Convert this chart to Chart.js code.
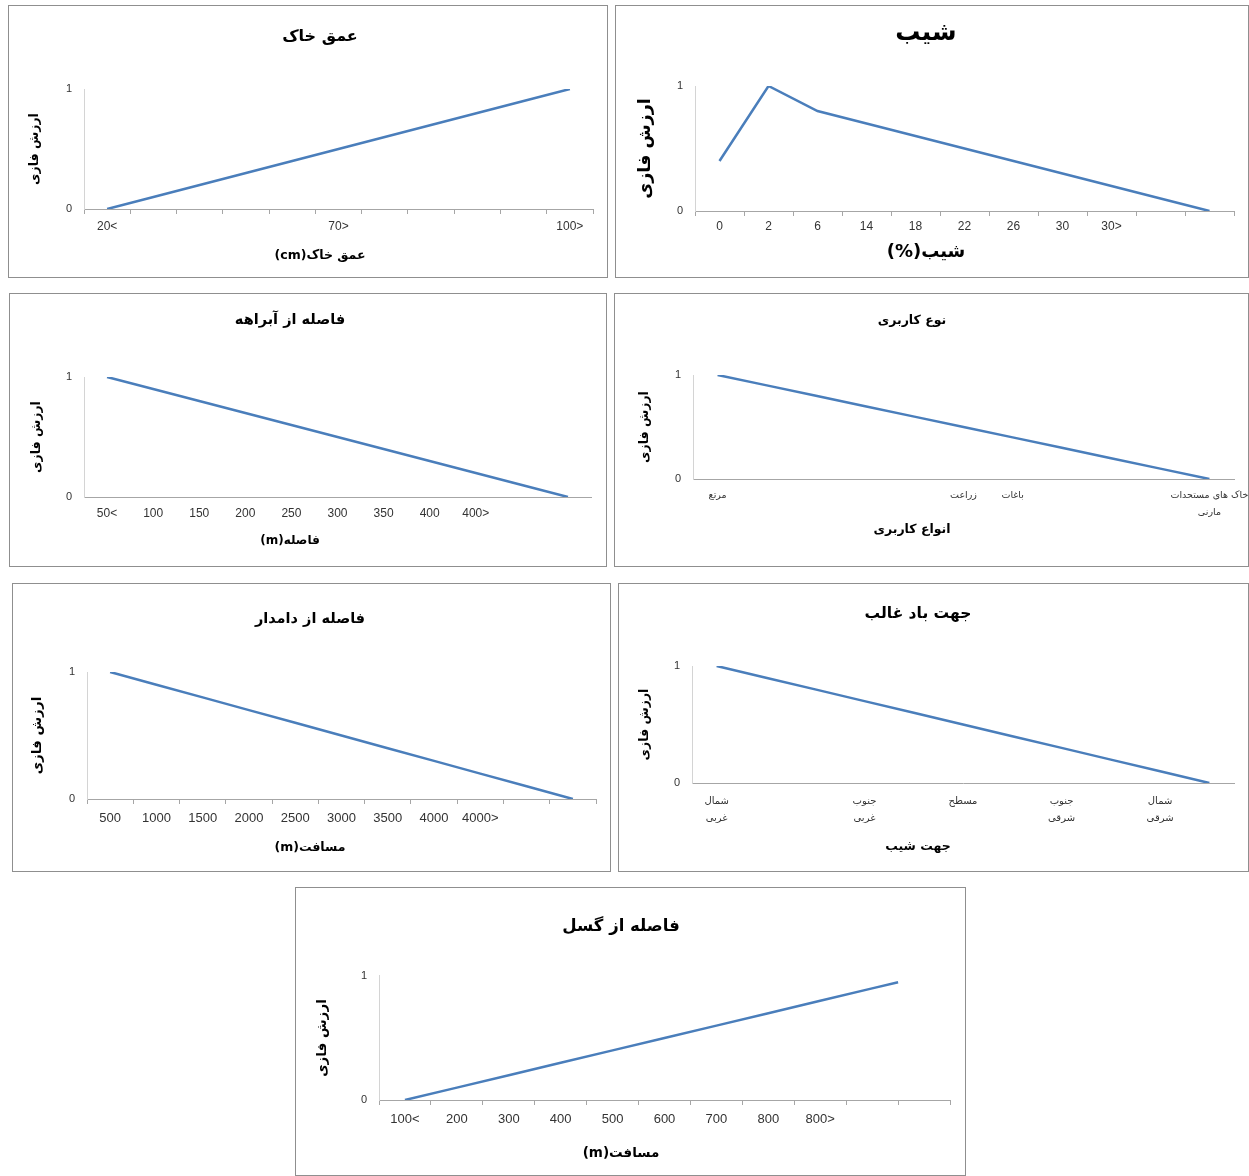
<!DOCTYPE html>
<html lang="fa">
<head>
<meta charset="utf-8">
<title>ارزش فازی</title>
<script src="https://cdn.jsdelivr.net/npm/chart.js@4.4.1/dist/chart.umd.min.js"></script>
<style>
  html, body { margin: 0; padding: 0; background: #fff; }
  #page { position: relative; width: 1249px; height: 1176px; overflow: hidden; }
  .panel { position: absolute; box-sizing: border-box; border: 1px solid #8f8f8f; background: #fff; }
  .panel canvas { display: block; }
</style>
</head>
<body>
<div id="page"></div>
<script>
// --- data ---
const yTitle = 'ارزش فازی';

const depthLabels = ['20<', '', '', '', '', '70>', '', '', '', '', '100>'];
const depthValues = [0, 0.1, 0.2, 0.3, 0.4, 0.5, 0.6, 0.7, 0.8, 0.9, 1];

const slopeLabels = ['0', '2', '6', '14', '18', '22', '26', '30', '30>', '', ''];
const slopeValues = [0.4, 1, 0.8, 0.7, 0.6, 0.5, 0.4, 0.3, 0.2, 0.1, 0];

const riverLabels = ['50<', '100', '150', '200', '250', '300', '350', '400', '400>', '', ''];
const riverValues = [1, 0.9, 0.8, 0.7, 0.6, 0.5, 0.4, 0.3, 0.2, 0.1, 0];

const landuseLabels = ['مرتع', '', '', '', '', 'زراعت', 'باغات', '', '', '', ['خاک های مستحدات', 'مارنی']];
const landuseValues = [1, 0.9, 0.8, 0.7, 0.6, 0.5, 0.4, 0.3, 0.2, 0.1, 0];

const livestockLabels = ['500', '1000', '1500', '2000', '2500', '3000', '3500', '4000', '4000>', '', ''];
const livestockValues = [1, 0.9, 0.8, 0.7, 0.6, 0.5, 0.4, 0.3, 0.2, 0.1, 0];

const windLabels = [['شمال', 'غربی'], '', '', ['جنوب', 'غربی'], '', 'مسطح', '', ['جنوب', 'شرقی'], '', ['شمال', 'شرقی'], ''];
const windValues = [1, 0.9, 0.8, 0.7, 0.6, 0.5, 0.4, 0.3, 0.2, 0.1, 0];

const faultLabels = ['100<', '200', '300', '400', '500', '600', '700', '800', '800>', '', ''];
const faultValues = [0, 0.1, 0.2, 0.3, 0.4, 0.5, 0.6, 0.7, 0.8, 0.9, 0.95];
const faultSlots = [1, 2, 3, 4, 5, 6, 7, 8, 9, 10, 10.5];

// --- look ---
const FA = '"DejaVu Sans", sans-serif';
const NUM = '"Liberation Sans", Arial, sans-serif';
const LINE = '#4a7ebb';
const rtl = s => '\u202B' + s + '\u202C';

// box: border pixels [x0, y0, x1, y1]; plot: [left, right, top, bottom]
const panels = [
  { box: [8, 5, 607, 277], plot: [84, 593, 89, 209], center: 320, titleY: 37, xTitleY: 256, yTitleX: 35, labelY: 227,
    title: 'عمق خاک', titleSize: 16, xTitle: rtl('عمق خاک(cm)'), xTitleSize: 12.5, yTitleSize: 12.5,
    labels: depthLabels, values: depthValues, tickFont: NUM, tickSize: 12, tickLh: 1.2, tickMarks: true },
  { box: [615, 5, 1248, 277], plot: [695, 1234, 86, 211], center: 926, titleY: 33, xTitleY: 252, yTitleX: 645, labelY: 227,
    title: 'شیب', titleSize: 25, xTitle: rtl('شیب(%)'), xTitleSize: 18, yTitleSize: 17.5,
    labels: slopeLabels, values: slopeValues, tickFont: NUM, tickSize: 12, tickLh: 1.2, tickMarks: true },
  { box: [9, 293, 606, 566], plot: [84, 591, 377, 497], center: 290, titleY: 320, xTitleY: 541, yTitleX: 37, labelY: 514,
    title: 'فاصله از آبراهه', titleSize: 14.5, xTitle: rtl('فاصله(m)'), xTitleSize: 12, yTitleSize: 12.5,
    labels: riverLabels, values: riverValues, tickFont: NUM, tickSize: 12, tickLh: 1.2, tickMarks: false },
  { box: [614, 293, 1248, 566], plot: [693, 1234, 375, 479], center: 912, titleY: 321, xTitleY: 530, yTitleX: 645, labelY: 496,
    title: 'نوع کاربری', titleSize: 12.5, xTitle: 'انواع کاربری', xTitleSize: 12.5, yTitleSize: 12.5,
    labels: landuseLabels, values: landuseValues, tickFont: FA, tickSize: 9.5, tickLh: 1.75, tickMarks: false },
  { box: [12, 583, 610, 871], plot: [87, 596, 672, 799], center: 310, titleY: 619, xTitleY: 848, yTitleX: 37, labelY: 818,
    title: 'فاصله از دامدار', titleSize: 14.5, xTitle: rtl('مسافت(m)'), xTitleSize: 12.5, yTitleSize: 13.5,
    labels: livestockLabels, values: livestockValues, tickFont: NUM, tickSize: 13, tickLh: 1.2, tickMarks: true },
  { box: [618, 583, 1248, 871], plot: [692, 1234, 666, 783], center: 918, titleY: 614, xTitleY: 847, yTitleX: 645, labelY: 801,
    title: 'جهت باد غالب', titleSize: 15.5, xTitle: 'جهت شیب', xTitleSize: 12.5, yTitleSize: 12.5,
    labels: windLabels, values: windValues, tickFont: FA, tickSize: 10, tickLh: 1.7, tickMarks: false },
  { box: [295, 887, 965, 1175], plot: [379, 950, 976, 1100], center: 621, titleY: 927, xTitleY: 1153, yTitleX: 322, labelY: 1119,
    title: 'فاصله از گسل', titleSize: 16.5, xTitle: rtl('مسافت(m)'), xTitleSize: 13.5, yTitleSize: 13.5,
    labels: faultLabels, values: faultValues, slots: faultSlots, tickFont: NUM, tickSize: 13, tickLh: 1.2, tickMarks: true }
];

function drawPanel(p) {
  const page = document.getElementById('page');
  const div = document.createElement('div');
  div.className = 'panel';
  const w = p.box[2] - p.box[0] + 1, h = p.box[3] - p.box[1] + 1;
  div.style.left = p.box[0] + 'px';
  div.style.top = p.box[1] + 'px';
  div.style.width = w + 'px';
  div.style.height = h + 'px';
  const canvas = document.createElement('canvas');
  const cw = w - 2, ch = h - 2;
  canvas.width = cw; canvas.height = ch;
  div.appendChild(canvas);
  page.appendChild(div);

  // everything below in canvas coordinates
  const ox = p.box[0] + 1, oy = p.box[1] + 1;
  const L = p.plot[0] - ox, R = p.plot[1] - ox, T = p.plot[2] - oy, B = p.plot[3] - oy;
  const pr = cw - R;
  const pl = 2 * (p.center - ox) - R;   // centres title + axis caption on p.center

  const tLh = p.titleSize * 1.2;
  const tPadTop = (p.titleY - oy) - tLh / 2;
  const tPadBottom = T - tPadTop - tLh;

  const sLh = p.xTitleSize * 1.2;
  const sTop = (p.xTitleY - oy) - sLh / 2;
  const sPadBottom = ch - sTop - sLh;
  const xH = sTop - B;

  const tl = p.tickMarks ? 5 : 0;
  const xPad = (p.labelY - oy) - B - tl - p.tickSize * p.tickLh / 2;

  const yLh = p.yTitleSize * 1.2;
  const yPad = (p.yTitleX - ox) - pl - yLh / 2;

  new Chart(canvas, {
    type: 'line',
    data: {
      labels: p.labels,
      datasets: [{
        data: p.values.map((v, i) => ({ x: p.slots ? p.slots[i] : i + 1, y: v })),
        xAxisID: 'xv',
        yAxisID: 'y',
        borderColor: LINE,
        borderWidth: 2.5,
        pointRadius: 0,
        tension: 0,
        fill: false
      }]
    },
    options: {
      responsive: false,
      animation: false,
      devicePixelRatio: 1,
      events: [],
      layout: { padding: { left: pl, right: pr, top: 0, bottom: 0 } },
      plugins: {
        legend: { display: false },
        tooltip: { enabled: false },
        title: {
          display: true, text: p.title, color: '#000',
          font: { family: FA, size: p.titleSize, weight: 'bold' },
          padding: { top: tPadTop, bottom: tPadBottom }
        },
        subtitle: {
          display: true, position: 'bottom', text: p.xTitle, color: '#000',
          font: { family: FA, size: p.xTitleSize, weight: 'bold' },
          padding: { top: 0, bottom: sPadBottom }
        }
      },
      scales: {
        x: {
          type: 'category',
          position: 'bottom',
          offset: true,
          grid: { display: true, offset: true, drawOnChartArea: false, drawTicks: p.tickMarks, tickLength: 5, color: '#a6a6a6' },
          border: { display: true, color: '#a6a6a6' },
          ticks: { autoSkip: false, maxRotation: 0, minRotation: 0, padding: xPad, color: '#333',
                   font: { family: p.tickFont, size: p.tickSize, lineHeight: p.tickLh } },
          afterFit(s) { s.height = xH; s.paddingLeft = 0; s.paddingRight = 0; }
        },
        xv: { type: 'linear', display: false, min: 0.5, max: p.labels.length + 0.5 },
        y: {
          type: 'linear',
          position: 'left',
          min: 0, max: 1,
          grid: { display: false, drawTicks: false },
          border: { display: true, color: '#d4d4d4' },
          ticks: { stepSize: 1, padding: 12, color: '#333', font: { family: NUM, size: 11 } },
          title: { display: true, text: yTitle, color: '#000',
                   font: { family: FA, size: p.yTitleSize, weight: 'bold' },
                   padding: { top: yPad, bottom: 0 } },
          afterFit(s) { s.width = L - pl; s.paddingTop = 0; s.paddingBottom = 0; }
        }
      }
    }
  });
}

panels.forEach(drawPanel);
</script>
</body>
</html>
